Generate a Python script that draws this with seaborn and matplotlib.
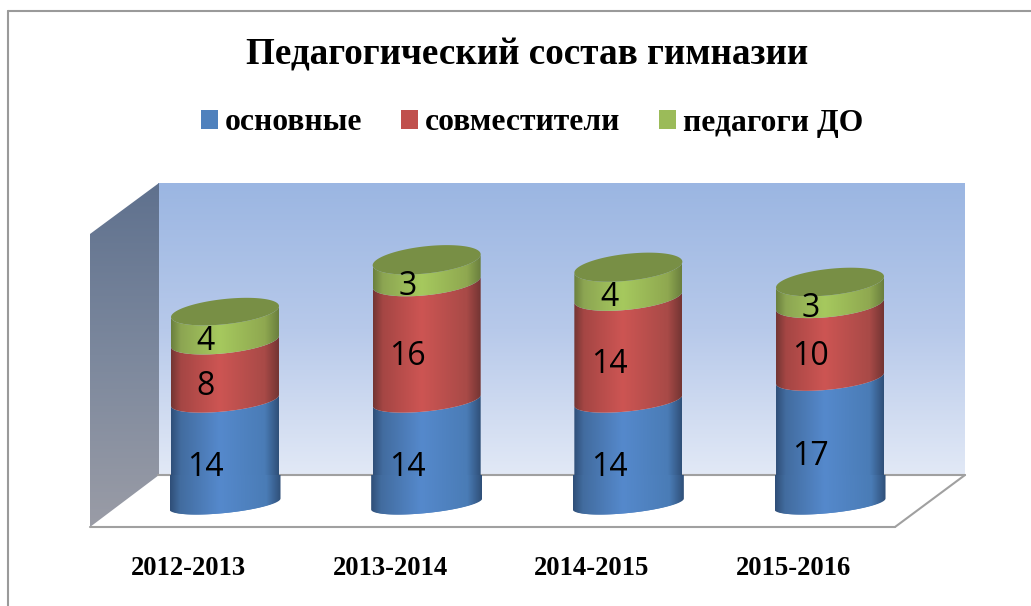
import numpy as np
import pandas as pd
import matplotlib
matplotlib.use("Agg")
import matplotlib.pyplot as plt
from matplotlib.colors import LinearSegmentedColormap
from matplotlib.lines import Line2D
from matplotlib.patches import Polygon, Patch
import seaborn as sns

years = ["2012-2013", "2013-2014", "2014-2015", "2015-2016"]
osnovnye = [14, 14, 14, 17]
sovmestiteli = [8, 16, 14, 10]
pedagogi = [4, 3, 4, 3]
series_names = ["основные", "совместители", "педагоги ДО"]
title = "Педагогический состав гимназии"

W, H = 1031, 606
# pixel frame of the plot
X0, DX, Y0, DY = 225.0, 201.67, 504.0, 7.4
L, R, T, B = 90, 965, 183, 527
dx = lambda p: (p - X0) / DX
dy = lambda p: (Y0 - p) / DY

sns.set_theme(style="white")
SERIF = ["Liberation Serif", "DejaVu Serif"]
LABEL = ["Open Sans", "DejaVu Sans"]

fig = plt.figure(figsize=(W / 100, H / 100), dpi=100, facecolor="white")
ax = fig.add_axes([L / W, 1 - B / H, (R - L) / W, (B - T) / H])
ax.set_facecolor("none")

df = pd.DataFrame({"year": years, "a": osnovnye, "b": sovmestiteli, "c": pedagogi})
base_colors = ["#4f81bd", "#c0504d", "#9bbb59"]
ramps = [
    ["#2f4f78", "#426c9f", "#5589cc", "#4a7cb6", "#2f4f78"],
    ["#733533", "#a54644", "#cd5553", "#a84a47", "#733533"],
    ["#6a7f3e", "#8ca552", "#a6c95e", "#8fa850", "#6a7f3e"],
]
stops = [0.0, 0.09, 0.45, 0.87, 1.0]

width = 108 / DX
bottom = np.zeros(len(years))
bars = []
for col, c in zip(["a", "b", "c"], base_colors):
    n0 = len(ax.patches)
    sns.barplot(data=df, x="year", y=col, bottom=bottom, color=c, saturation=1,
                width=width, ax=ax, zorder=3)
    bars.append(list(ax.patches[n0:]))
    bottom = bottom + df[col].to_numpy()

# walls and floor behind the cylinders
wall_cmap = LinearSegmentedColormap.from_list("wall", ["#9bb6e2", "#b7c9ea", "#e2e9f6"])
side_cmap = LinearSegmentedColormap.from_list("side", ["#5f718e", "#7c889d", "#9a9ca6"])
grad = np.linspace(0, 1, 256)[:, None]
ax.imshow(grad, cmap=wall_cmap, aspect="auto", origin="upper", zorder=1,
          extent=(dx(158), dx(965), dy(475), dy(183)))
im = ax.imshow(grad, cmap=side_cmap, aspect="auto", origin="upper", zorder=1,
               extent=(dx(90), dx(159), dy(527), dy(183)))
side = Polygon([(dx(90), dy(234)), (dx(159), dy(183)), (dx(159), dy(475)), (dx(90), dy(527))],
               transform=ax.transData, facecolor="none", edgecolor="none")
ax.add_patch(side)
im.set_clip_path(side)
for p0, p1 in [((158, 475), (965, 475)), ((90, 527), (895, 527)), ((895, 527), (965, 475))]:
    ax.add_line(Line2D([dx(p0[0]), dx(p1[0])], [dy(p0[1]), dy(p1[1])], color="#a0a0a0", lw=1.5,
                       zorder=2, clip_on=False))

# cylinders drawn on the bars' own geometry
a_rad = 0.5 * width
k_tilt = 5.5 / DY
t = np.linspace(np.pi, 2 * np.pi, 80)


def arc(cx, cy, tt, grow=0.0):
    b_rad = (9.0 + 0.14 * cy) / DY
    return cx + (a_rad + grow) * np.cos(tt), cy + b_rad * np.sin(tt) + k_tilt * np.cos(tt)


floor_back = dy(475)
for group, ramp in zip(bars, ramps):
    cmap = LinearSegmentedColormap.from_list("c", list(zip(stops, ramp)))
    for bar in group:
        x = bar.get_x() + bar.get_width() / 2
        y0, y1 = bar.get_y(), bar.get_y() + bar.get_height()
        bar.set_visible(False)
        xa, ya = arc(x, y0, t)
        xb, yb = arc(x, y1, t)
        poly = Polygon(np.r_[np.c_[xa, ya], np.c_[xb, yb][::-1]], transform=ax.transData,
                       facecolor="none", edgecolor="none")
        ax.add_patch(poly)
        img = ax.imshow(np.linspace(0, 1, 256)[None, :], cmap=cmap, aspect="auto", zorder=3,
                        extent=(x - a_rad, x + a_rad, y0 - 3, y1 + 3))
        img.set_clip_path(poly)
        if y0 == 0:
            # the foot of the cylinder, in front of the floor, sits a little wider
            g = 1.5 / DX
            xf, yf = arc(x, y0, t, g)
            foot = Polygon(np.r_[np.c_[xf, yf], [[x + a_rad + g, floor_back], [x - a_rad - g, floor_back]]],
                           transform=ax.transData, facecolor="none", edgecolor="none")
            ax.add_patch(foot)
            ft = ax.imshow(np.linspace(0, 1, 256)[None, :], cmap=cmap, aspect="auto", zorder=3.1,
                           extent=(x - a_rad - g, x + a_rad + g, y0 - 3, floor_back))
            ft.set_clip_path(foot)

tt = np.linspace(0, 2 * np.pi, 160)
for i, total in enumerate(bottom):
    xc, yc = arc(i, total, tt)
    ax.add_patch(Polygon(np.c_[xc, yc], facecolor="#788f45", edgecolor="none", zorder=4))

# value labels
running = np.zeros(len(years))
for vals in (osnovnye, sovmestiteli, pedagogi):
    for i, v in enumerate(vals):
        ax.text(i - 0.095, running[i] + v / 2 - 2.1, str(v), ha="center", va="center",
                family=LABEL, fontsize=23, color="black", zorder=6)
    running = running + np.array(vals)

ax.set_xlim(dx(L), dx(R))
ax.set_ylim(dy(B), dy(T))
ax.set_yticks([])
ax.set_xticks(np.arange(len(years)) - 0.18)
ax.set_xticklabels(years, family=SERIF, fontweight="bold", fontsize=19.2, color="black")
ax.tick_params(axis="x", length=0, pad=21)
ax.set_xlabel("")
ax.set_ylabel("")
for s in ax.spines.values():
    s.set_visible(False)

fig.text(527.5 / W, 1 - 55 / H, title, family=SERIF, fontweight="bold", fontsize=26.7,
         ha="center", va="center", color="black")

handles = [Patch(facecolor=c, edgecolor="none", label=n) for c, n in zip(base_colors, series_names)]
fig.legend(handles=handles, loc="center", bbox_to_anchor=(532 / W, 1 - 123 / H), ncol=3, frameon=False,
           prop={"family": SERIF, "weight": "bold", "size": 22.8}, labelcolor="black",
           handlelength=0.53, handleheight=0.53, handletextpad=0.22, columnspacing=1.22)

fig.add_artist(Line2D([8 / W, 8 / W], [0, 1 - 10.5 / H], color="#9a9a9a", lw=1.5))
fig.add_artist(Line2D([8 / W, 1], [1 - 10.5 / H, 1 - 10.5 / H], color="#9a9a9a", lw=1.5))

fig.savefig("out.png", dpi=100, facecolor="white")
